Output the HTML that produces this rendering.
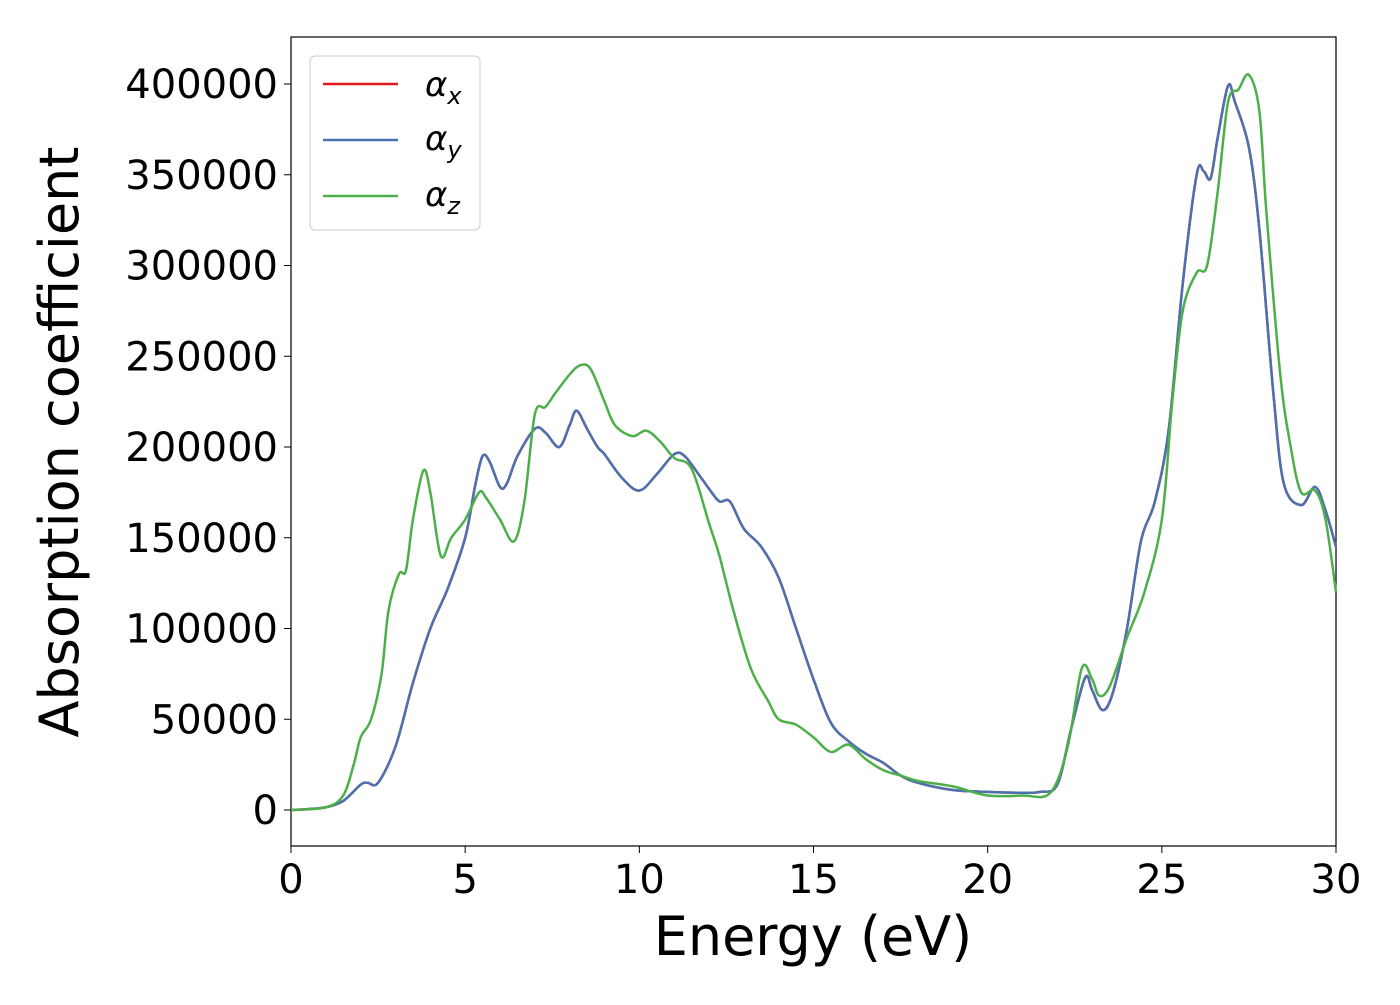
<!DOCTYPE html>
<html><head><meta charset="utf-8"><style>
body{margin:0;background:#fff}
svg text{font-family:"DejaVu Sans","Liberation Sans",sans-serif;fill:#000}
</style></head><body>
<svg id="chart" width="1400" height="1000" xmlns="http://www.w3.org/2000/svg">
<rect x="291" y="37" width="1045" height="809" fill="none" stroke="#000" stroke-width="1.2"/>
<g id="series"></g>
<g id="xticks"></g>
<g id="yticks"></g>
<text x="813" y="955" font-size="54" text-anchor="middle">Energy (eV)</text>
<text transform="translate(78,442) rotate(-90)" font-size="54" text-anchor="middle">Absorption coefficient</text>
<g>
<rect x="310" y="56" width="170" height="174" rx="5" fill="#fff" stroke="#ccc"/>
<line x1="323" y1="84" x2="398" y2="84" stroke="#e41a1c" stroke-width="2.5"/>
<text x="425" y="96" font-size="34" font-style="italic">α<tspan font-size="24" dy="8">x</tspan></text>
<line x1="323" y1="140" x2="398" y2="140" stroke="#4a72b0" stroke-width="2.5"/>
<text x="425" y="150" font-size="34" font-style="italic">α<tspan font-size="24" dy="8">y</tspan></text>
<line x1="323" y1="196" x2="398" y2="196" stroke="#4daf4a" stroke-width="2.5"/>
<text x="425" y="206" font-size="34" font-style="italic">α<tspan font-size="24" dy="8">z</tspan></text>
</g>
</svg>
<script>
const xTicks=[0,5,10,15,20,25,30];
const yTicks=[0,50000,100000,150000,200000,250000,300000,350000,400000];
const energyXY=[0,0.5,1,1.5,2,2.2,2.5,3,3.5,4,4.5,5,5.3,5.5,5.7,6,6.2,6.5,7,7.3,7.7,8,8.2,8.5,8.8,9,9.5,10,10.5,11,11.3,11.7,12,12.3,12.6,13,13.5,14,14.5,15,15.5,16,16.5,17,17.5,18,19,20,21,21.5,22,22.4,22.8,23,23.3,23.6,24,24.4,24.8,25.2,25.6,26,26.2,26.4,26.6,26.9,27.1,27.5,27.8,28.2,28.5,29,29.4,29.7,30];
const alphaXY=[0,500,1500,5000,14000,15000,15000,35000,70000,100000,122000,150000,180000,195000,192000,178000,180000,195000,210000,208000,200000,212000,220000,210000,200000,196000,183000,176000,185000,196000,195000,185000,177000,170000,170000,155000,145000,128000,100000,72000,48000,38000,31000,26000,19000,15000,11000,10000,9500,10000,14000,45000,73000,66000,55000,65000,100000,148000,170000,210000,290000,350000,352000,348000,370000,399000,390000,365000,320000,230000,180000,168000,178000,165000,145000];
const energyZ=[0,1,1.5,1.8,2,2.3,2.6,2.8,3.1,3.3,3.5,3.8,4,4.3,4.6,5,5.4,5.6,6,6.4,6.7,7,7.3,7.6,8,8.3,8.6,9,9.3,9.8,10.2,10.6,11,11.5,12,12.3,12.7,13.2,13.7,14,14.5,15,15.5,16,16.5,17,17.5,18,19,20,21,21.8,22.3,22.7,23,23.2,23.5,24,24.5,25,25.3,25.6,26,26.3,26.6,26.9,27.2,27.5,27.8,28,28.4,28.7,29,29.4,29.7,30];
const alphaZ=[0,1500,8000,25000,40000,50000,75000,110000,130000,132000,160000,187000,175000,140000,150000,160000,175000,172000,160000,148000,170000,218000,222000,230000,240000,245000,243000,225000,212000,206000,209000,203000,194000,188000,158000,140000,110000,78000,60000,50000,47000,40000,32000,36000,28000,22000,19000,16000,13000,8000,8000,9500,35000,78000,72000,63000,68000,95000,120000,160000,225000,275000,296000,300000,340000,390000,397000,405000,385000,330000,240000,200000,175000,176000,160000,120000];
const X=v=>291+v/30*1045;
const Y=v=>810-v/400000*726;
const NS="http://www.w3.org/2000/svg";
function path(xs,ys){
  const p=xs.map((x,i)=>[X(x),Y(ys[i])]);
  let d="M"+p[0][0]+","+p[0][1];
  for(let i=0;i<p.length-1;i++){
    const a=p[Math.max(i-1,0)],b=p[i],c=p[i+1],e=p[Math.min(i+2,p.length-1)];
    d+=" C"+(b[0]+(c[0]-a[0])/6)+","+(b[1]+(c[1]-a[1])/6)+" "+(c[0]-(e[0]-b[0])/6)+","+(c[1]-(e[1]-b[1])/6)+" "+c[0]+","+c[1];
  }
  return d;
}
const g=document.getElementById("series");
[[energyXY,alphaXY,"#e41a1c","series-alpha-x"],[energyXY,alphaXY,"#4a72b0","series-alpha-y"],[energyZ,alphaZ,"#4daf4a","series-alpha-z"]].forEach(s=>{
  const el=document.createElementNS(NS,"path");
  el.setAttribute("d",path(s[0],s[1]));
  el.setAttribute("fill","none");el.setAttribute("stroke",s[2]);el.setAttribute("stroke-width","2.5");
  
  
  g.appendChild(el);
});
const xg=document.getElementById("xticks");
xTicks.forEach(t=>{
  const l=document.createElementNS(NS,"line");
  l.setAttribute("x1",X(t));l.setAttribute("x2",X(t));l.setAttribute("y1",846);l.setAttribute("y2",853);l.setAttribute("stroke","#000");
  
  
  xg.appendChild(l);
  const tx=document.createElementNS(NS,"text");
  tx.setAttribute("x",X(t));tx.setAttribute("y",893);tx.setAttribute("font-size","40");tx.setAttribute("text-anchor","middle");
  tx.textContent=t;
  
  
  xg.appendChild(tx);
});
const yg=document.getElementById("yticks");
yTicks.forEach(t=>{
  const l=document.createElementNS(NS,"line");
  l.setAttribute("x1",284);l.setAttribute("x2",291);l.setAttribute("y1",Y(t));l.setAttribute("y2",Y(t));l.setAttribute("stroke","#000");
  
  
  yg.appendChild(l);
  const tx=document.createElementNS(NS,"text");
  tx.setAttribute("x",278);tx.setAttribute("y",Y(t)+14);tx.setAttribute("font-size","40");tx.setAttribute("text-anchor","end");
  tx.textContent=t;
  
  
  yg.appendChild(tx);
});
</script>
</body></html>
